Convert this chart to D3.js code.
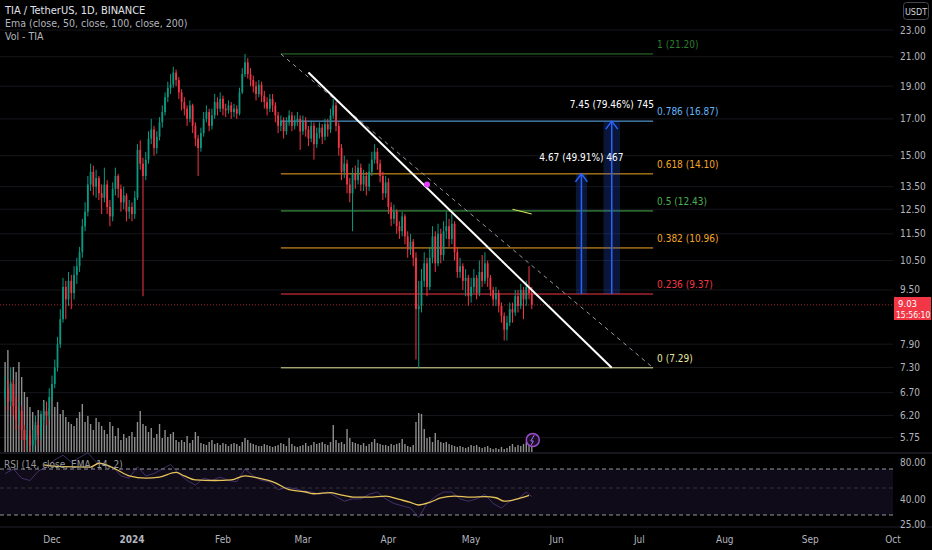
<!DOCTYPE html>
<html>
<head>
<meta charset="utf-8">
<script src="https://cdn.jsdelivr.net/npm/d3@7"></script>
<style>
  body { margin: 0; background: #000; }
  text { font-family: "Liberation Sans Narrow", "DejaVu Sans Condensed", "Roboto", sans-serif; }
</style>
</head>
<body>
<script>
// daily candles from 2023-11-14, open = previous close
let firstDay = "2023-11-14";
let firstOpen = 6.6;
let closes = [6.8,6.5,6.9,6.4,6.1,6.3,5.9,5.7,5.8,5.6, 5.7,6.0,5.8,6.1,6.3,6.2,6.6,6.9,7.3,7.9,
  8.6,9.6,9.2,9.8,9.4,10.0,10.3,10.8,11.8,12.4, 13.6,14.2,13.5,13.9,13.2,13.0,13.6,12.6,12.2,13.4,
  14.0,13.4,12.8,13.1,12.4,12.6,12.3,13.0,15.3,14.6, 14.0,14.8,15.9,16.4,15.4,16.0,16.8,17.4,18.3,18.9,
  19.1,19.9,19.4,18.6,18.0,17.6,17.0,17.8,16.6,15.9, 15.4,16.2,17.0,17.4,16.6,17.2,18.0,17.6,18.2,17.6,
  17.5,17.8,17.4,17.6,17.3,18.6,19.8,20.6,19.8,19.4, 19.0,18.5,19.1,18.4,18.0,17.6,18.2,17.8,17.2,16.6,
  16.9,16.3,16.8,17.2,16.6,16.9,17.0,16.3,16.9,16.4, 15.9,16.6,15.6,16.2,16.5,16.0,16.7,16.4,17.2,17.8,
  16.6,15.4,14.2,14.6,13.6,13.2,14.1,13.8,14.4,13.6, 14.0,13.5,14.2,14.8,15.2,14.6,14.0,13.2,13.7,12.6,
  12.1,12.4,11.8,11.6,12.2,11.4,10.9,11.2,10.6,8.9, 9.0,9.8,10.4,9.6,10.6,11.4,10.4,11.5,10.7,11.6,
  11.8,11.3,11.9,10.8,10.1,10.3,9.8,9.9,9.3,9.6, 9.9,9.4,10.1,9.8,10.4,9.9,9.5,9.2,9.4,9.0,
  8.7,8.3,8.5,8.9,8.8,9.3,9.0,9.5,9.2,9.6, 9.4,9.03];
let highs = [7.1,7.0,7.3,7.0,6.6,6.5,6.4,6.0,6.0,5.9, 5.9,6.2,6.1,6.3,6.5,6.5,6.8,7.1,7.5,8.1,
  8.9,9.9,9.8,10.1,10.0,10.3,10.6,11.0,12.1,12.8, 14.0,14.6,14.5,14.3,14.0,13.6,14.4,13.8,12.9,13.7,
  14.4,14.1,13.6,13.5,13.2,12.9,12.8,13.3,15.6,15.8, 14.9,15.2,16.3,17.0,16.6,16.3,17.1,17.8,18.6,19.3,
  19.8,20.3,20.1,19.6,18.8,18.3,17.8,18.1,17.9,16.8, 16.1,16.5,17.4,17.8,17.6,17.6,18.5,18.3,18.6,18.4,
  17.9,18.1,18.0,17.9,17.8,18.9,20.2,21.2,20.9,20.2, 19.7,19.3,19.4,19.3,18.7,18.3,18.5,18.5,18.0,17.4,
  17.2,17.1,17.1,17.5,17.4,17.2,17.4,17.2,17.2,17.1, 16.6,16.9,16.8,16.5,16.8,16.7,17.0,17.0,17.6,18.2,
  18.0,16.8,15.6,15.0,14.8,13.9,14.4,14.5,14.8,14.6, 14.3,14.2,14.6,15.2,15.6,15.4,14.8,14.2,14.0,13.9,
  12.8,12.7,12.5,12.0,12.4,12.3,11.6,11.5,11.3,10.8, 9.8,10.2,10.8,10.6,11.0,11.8,11.6,11.9,11.7,12.0,
  12.4,12.1,12.3,12.0,11.0,10.6,10.4,10.2,10.0,9.9, 10.2,10.0,10.5,10.7,10.8,10.5,10.0,9.6,9.6,9.5,
  9.1,8.8,8.7,9.1,9.1,9.5,9.5,9.7,9.6,9.8, 10.3,9.6];
let lows = [6.4,6.3,6.4,6.2,5.9,6.0,5.7,5.5,5.5,5.45, 5.45,5.6,5.6,5.7,6.0,6.0,6.1,6.5,6.8,7.2,
  7.8,8.5,8.6,9.0,8.9,9.2,9.7,10.1,10.6,11.6, 12.2,13.3,13.1,13.0,12.9,12.3,12.8,12.3,11.8,12.0,
  13.1,13.0,12.4,12.5,12.0,12.1,12.0,12.1,12.9,14.3, 9.3,13.8,14.6,15.6,15.0,15.1,15.8,16.5,17.2,18.0,
  18.5,18.9,19.0,18.2,17.5,17.2,16.6,16.8,16.2,15.5, 14.0,15.2,16.0,16.8,16.3,16.4,17.0,17.2,17.4,17.2,
  17.1,17.3,17.0,17.1,17.0,17.2,18.5,19.6,19.5,19.0, 18.6,18.1,18.3,18.0,17.6,17.2,17.4,17.4,16.8,16.2,
  16.3,15.9,16.1,16.6,16.3,16.4,16.6,15.3,16.1,16.0, 15.5,15.7,14.8,15.4,15.9,15.6,15.8,16.0,16.2,17.0,
  16.3,15.0,13.8,13.9,13.2,12.8,11.6,13.4,13.6,13.3, 13.3,13.1,13.3,14.0,14.6,14.3,13.7,12.9,13.0,12.3,
  11.8,11.9,11.5,11.3,11.4,11.1,10.6,10.7,10.3,7.5, 7.29,8.8,9.6,9.3,9.5,10.4,10.1,10.3,10.4,10.5,
  11.3,11.0,11.1,10.5,9.9,9.9,9.5,9.3,9.0,9.1, 9.4,9.2,9.3,9.6,9.7,9.6,9.3,9.0,9.0,8.8,
  8.5,8.0,8.0,8.4,8.5,8.7,8.8,8.9,8.6,9.0, 9.2,8.9];
let volumes = [90,102,70,85,80,90,75,60,55,45, 40,30,42,38,52,40,44,55,
  45,50,38,42,35,30,28,26,34,40, 48,30,36,28,22,34,30,26,22,18, 30,26,16,24,12,18,14,16,20,15,
  30,41,28,26,20,24,14,18,28,14, 22,15,18,20,12,10,12,10,16,9, 12,20,16,9,8,7,10,12,8,9,
  7,9,8,6,8,9,8,6,10,14, 12,9,8,7,6,6,8,7,6,5, 6,7,9,8,6,14,8,6,5,6,
  7,9,6,7,10,8,9,10,8,7, 10,27,12,9,10,8,23,14,10,9, 8,7,9,6,8,10,13,9,8,7,
  7,6,8,7,8,9,13,8,6,5, 7,30,39,38,23,14,15,10,19,12, 10,9,10,8,7,6,5,6,5,4,
  5,7,6,7,5,4,5,6,4,3, 4,3,5,3,4,6,8,5,7,6, 8,10,9,8];

// RSI: raw every third day [dayIndex, value], EMA smoothing [dayIndex, value]
let rsiRaw = [[0,66],[3,70],[6,62],[9,60],[12,68],[15,72],[18,78],[21,82],[24,76],[27,80],[30,84],[33,76],
  [36,74],[39,72],[42,64],[45,62],[48,72],[51,64],[54,66],[57,70],[60,74],[63,66],[66,60],[69,56],[72,62],
  [75,60],[78,63],[81,60],[84,59],[87,70],[90,64],[93,60],[96,59],[99,52],[102,54],[105,53],[108,51],
  [111,50],[114,48],[117,50],[120,46],[123,42],[126,44],[129,44],[132,48],[135,50],[138,44],[141,40],
  [144,38],[147,36],[150,28],[153,40],[156,46],[159,50],[162,50],[165,44],[168,42],[171,44],[174,48],
  [177,40],[180,36],[183,42],[186,44],[189,50],[191,46]];
let rsiEma = [[14,73.5],[20,72],[31,71.7],[34,75],[40,70],[45,64],[51,62],[56,63],[62,67],[65,64],[69,60.5],
  [76,60],[82,60.5],[87,64],[92,62],[98,58],[103,52],[109,50],[112,48.5],[118,49.5],[121,48],[127,45.5],
  [132,45.5],[138,46.5],[143,43.5],[147,41],[150,38.7],[154,41],[158,44.8],[163,46.5],[169,45.5],
  [174,46],[178,45],[181,42],[185,43.5],[190,47]];

let priceTicks = [23, 21, 19, 17, 15, 13.5, 12.5, 11.5, 10.5, 9.5, 7.9, 7.3, 6.7, 6.2, 5.75];
let rsiTicks = [80, 40, 25];
let monthTicks = ["2023-12-01","2023-12-30","2024-02-01","2024-03-01","2024-04-01","2024-05-01",
  "2024-06-01","2024-07-01","2024-08-01","2024-09-01","2024-10-01"];
let monthLabels = ["Dec","2024","Feb","Mar","Apr","May","Jun","Jul","Aug","Sep","Oct"];

let fibLevels = [1, 0.786, 0.618, 0.5, 0.382, 0.236, 0];
let fibPrices = [21.20, 16.87, 14.10, 12.43, 10.96, 9.37, 7.29];
let fibColors = ["#2e7d32", "#64b5f6", "#f5a623", "#4caf50", "#f5a623", "#f23645", "#e6e6a0"];
let fibRange = ["2024-02-22", "2024-07-06"];

let trendSolid = [["2024-03-03", 19.9], ["2024-06-21", 7.29]];
let trendDashed = [["2024-02-22", 21.2], ["2024-07-06", 7.29]];

let arrows = [
  { day: "2024-06-10", half: 2, from: 9.37, to: 14.10, label: "4.67 (49.91%) 467" },
  { day: "2024-06-21", half: 3, from: 9.37, to: 16.87, label: "7.45 (79.46%) 745" }
];
let lastPrice = 9.03;
let countdown = "15:56:10";

let W = 932, H = 550;
let chartRight = 893;
let parse = d3.timeParse("%Y-%m-%d");

let x = d3.scaleTime().domain([parse("2023-12-01"), parse("2024-10-01")]).range([52, 893]);
let y = d3.scaleLog().domain([5.75, 23]).range([437.6, 30]);
let yVol = d3.scaleLinear().domain([0, 110]).range([452, 342]);
let yRsi = d3.scaleLinear().domain([30, 70]).range([515, 469]);

let day0 = parse(firstDay);
let dayAt = i => d3.timeDay.offset(day0, i);
let candles = closes.map((c, i) => ({
  date: dayAt(i), o: i == 0 ? firstOpen : closes[i - 1], h: highs[i], l: lows[i], c: c, v: volumes[i]
}));

let svg = d3.select("body").append("svg").attr("width", W).attr("height", H)
  .style("background", "#000");

svg.append("defs").append("clipPath").attr("id", "main")
  .append("rect").attr("x", 0).attr("y", 0).attr("width", chartRight).attr("height", 452);

// grid
svg.selectAll(".grid").data(priceTicks).enter().append("line")
  .attr("x1", 0).attr("x2", chartRight)
  .attr("y1", d => y(d)).attr("y2", d => y(d))
  .attr("stroke", "#15171c").attr("stroke-width", 1);

let main = svg.append("g").attr("clip-path", "url(#main)");

// volume
main.selectAll(".vol").data(candles).enter().append("rect")
  .attr("x", d => x(d.date) - 0.7).attr("width", 1.4)
  .attr("y", d => yVol(d.v)).attr("height", d => yVol(0) - yVol(d.v))
  .attr("fill", "rgba(190,190,190,0.75)");

// fib levels
let fx1 = x(parse(fibRange[0])), fx2 = x(parse(fibRange[1]));
fibPrices.forEach((p, i) => {
  main.append("line").attr("x1", fx1).attr("x2", fx2).attr("y1", y(p)).attr("y2", y(p))
    .attr("stroke", fibColors[i]).attr("stroke-width", 1);
  svg.append("text").attr("x", fx2 + 4).attr("y", y(p) - 6)
    .attr("font-size", "10px").attr("fill", fibColors[i])
    .text(fibLevels[i] + " (" + p.toFixed(2) + ")");
});

// last price line
main.append("line").attr("x1", 0).attr("x2", chartRight).attr("y1", y(lastPrice)).attr("y2", y(lastPrice))
  .attr("stroke", "#f23645").attr("stroke-width", 1).attr("stroke-dasharray", "1,2").attr("opacity", 0.7);

// candles
let cg = main.selectAll(".c").data(candles).enter().append("g");
cg.append("line")
  .attr("x1", d => x(d.date)).attr("x2", d => x(d.date))
  .attr("y1", d => y(d.h)).attr("y2", d => y(d.l))
  .attr("stroke", d => d.c >= d.o ? "#089981" : "#f23645").attr("stroke-width", 1);
cg.append("rect")
  .attr("x", d => x(d.date) - 0.9).attr("width", 1.8)
  .attr("y", d => y(Math.max(d.o, d.c)))
  .attr("height", d => Math.max(1, Math.abs(y(d.o) - y(d.c))))
  .attr("fill", d => d.c >= d.o ? "#089981" : "#f23645");

// trend lines
let tl = d3.line().x(d => x(parse(d[0]))).y(d => y(d[1]));
main.append("path").attr("d", tl(trendDashed)).attr("fill", "none")
  .attr("stroke", "#9598a1").attr("stroke-width", 1).attr("stroke-dasharray", "4,4");
main.append("path").attr("d", tl(trendSolid)).attr("fill", "none")
  .attr("stroke", "#ffffff").attr("stroke-width", 2);

// small marks
main.append("circle").attr("cx", x(parse("2024-04-15"))).attr("cy", y(13.6)).attr("r", 3)
  .attr("fill", "#e040fb");
main.append("path").attr("d", tl([["2024-05-16", 12.5], ["2024-05-23", 12.3]]))
  .attr("stroke", "#d4e157").attr("stroke-width", 1.2).attr("fill", "none");

// long arrows
arrows.forEach(a => {
  let d = parse(a.day);
  let xl = x(d3.timeDay.offset(d, -a.half)), xr = x(d3.timeDay.offset(d, a.half)), xc = x(d);
  let yt = y(a.to), yb = y(a.from);
  main.append("rect").attr("x", xl).attr("y", yt).attr("width", xr - xl).attr("height", yb - yt)
    .attr("fill", "rgba(41,98,255,0.22)");
  main.append("line").attr("x1", xc).attr("x2", xc).attr("y1", yt).attr("y2", yb)
    .attr("stroke", "#2962ff").attr("stroke-width", 1.5);
  main.append("path").attr("d", "M" + (xc - 6) + "," + (yt + 8) + "L" + xc + "," + yt + "L" + (xc + 6) + "," + (yt + 8))
    .attr("stroke", "#2962ff").attr("stroke-width", 1.5).attr("fill", "none");
  svg.append("text").attr("x", xc).attr("y", yt - 13).attr("text-anchor", "middle")
    .attr("font-size", "10px").attr("fill", "#ffffff").text(a.label);
});

// bolt marker
let lastX = x(candles[candles.length - 1].date);
svg.append("circle").attr("cx", lastX + 1).attr("cy", 440).attr("r", 6.5)
  .attr("fill", "#1a0f2a").attr("stroke", "#9c4dcc").attr("stroke-width", 1.5);
svg.append("path").attr("d", "M" + (lastX + 2.5) + ",435 L" + (lastX - 1) + ",441 L" + (lastX + 1.5) + ",441 L" + (lastX - 0.5) + ",445")
  .attr("stroke", "#b26fe0").attr("stroke-width", 1).attr("fill", "none");

// price axis
svg.selectAll(".pt").data(priceTicks).enter().append("text")
  .attr("x", 900).attr("y", d => y(d) + 3.5)
  .attr("font-size", "10px").attr("fill", "#b2b5be")
  .text(d => d.toFixed(2));

svg.append("rect").attr("x", 894).attr("y", 297).attr("width", 37).attr("height", 23).attr("fill", "#f23645");
svg.append("text").attr("x", 898).attr("y", 307).attr("font-size", "9.5px").attr("fill", "#fff").text(lastPrice.toFixed(2));
svg.append("text").attr("x", 896).attr("y", 318).attr("font-size", "8.5px").attr("fill", "#fff").text(countdown);

svg.append("rect").attr("x", 903.5).attr("y", 2.5).attr("width", 25).attr("height", 17).attr("rx", 3)
  .attr("fill", "#000").attr("stroke", "#434651");
svg.append("text").attr("x", 916).attr("y", 14.5).attr("text-anchor", "middle")
  .attr("font-size", "9px").attr("fill", "#d1d4dc").text("USDT");

// pane separators
svg.append("line").attr("x1", 0).attr("x2", W).attr("y1", 453).attr("y2", 453).attr("stroke", "#2a2e39");
svg.append("line").attr("x1", 0).attr("x2", W).attr("y1", 527).attr("y2", 527).attr("stroke", "#1e222d");

// RSI pane
svg.append("rect").attr("x", 0).attr("y", yRsi(70)).attr("width", chartRight)
  .attr("height", yRsi(30) - yRsi(70)).attr("fill", "rgba(126,87,194,0.12)");
[70, 30].forEach(v => svg.append("line").attr("x1", 0).attr("x2", chartRight)
  .attr("y1", yRsi(v)).attr("y2", yRsi(v))
  .attr("stroke", "#9598a1").attr("stroke-dasharray", "4,3"));
svg.append("line").attr("x1", 0).attr("x2", chartRight).attr("y1", yRsi(50) - 4).attr("y2", yRsi(50) - 4)
  .attr("stroke", "#4a4e59").attr("stroke-dasharray", "4,3").attr("opacity", 0.6);

let rl = d3.line().x(d => x(dayAt(d[0]))).y(d => yRsi(d[1]));
svg.append("path").attr("d", rl(rsiRaw)).attr("fill", "none").attr("stroke", "#6a4fa8")
  .attr("stroke-width", 0.8).attr("opacity", 0.7);
svg.append("path").attr("d", rl.curve(d3.curveMonotoneX)(rsiEma)).attr("fill", "none")
  .attr("stroke", "#e8c45a").attr("stroke-width", 1.3);

svg.selectAll(".rt").data(rsiTicks).enter().append("text")
  .attr("x", 900).attr("y", d => [462, 499, 524][rsiTicks.indexOf(d)] + 3.5)
  .attr("font-size", "10px").attr("fill", "#b2b5be").text(d => d.toFixed(2));

svg.append("text").attr("x", 4).attr("y", 468).attr("font-size", "10px").attr("fill", "#9598a1")
  .text("RSI (14, close, EMA, 14, 2)");

// time axis
svg.selectAll(".mt").data(monthTicks).enter().append("text")
  .attr("x", d => x(parse(d))).attr("y", 543).attr("text-anchor", "middle")
  .attr("font-size", "10px").attr("fill", "#b2b5be")
  .attr("font-weight", (d, i) => monthLabels[i] == "2024" ? "bold" : "normal")
  .text((d, i) => monthLabels[i]);

// legend
let legend = ["TIA / TetherUS, 1D, BINANCE", "Ema (close, 50, close, 100, close, 200)", "Vol - TIA"];
svg.selectAll(".lg").data(legend).enter().append("text")
  .attr("x", 5).attr("y", (d, i) => 14 + i * 13)
  .attr("font-size", (d, i) => i == 0 ? "11px" : "10.5px")
  .attr("fill", (d, i) => i == 0 ? "#e0e3eb" : "#b2b5be")
  .text(d => d);
</script>
</body>
</html>
